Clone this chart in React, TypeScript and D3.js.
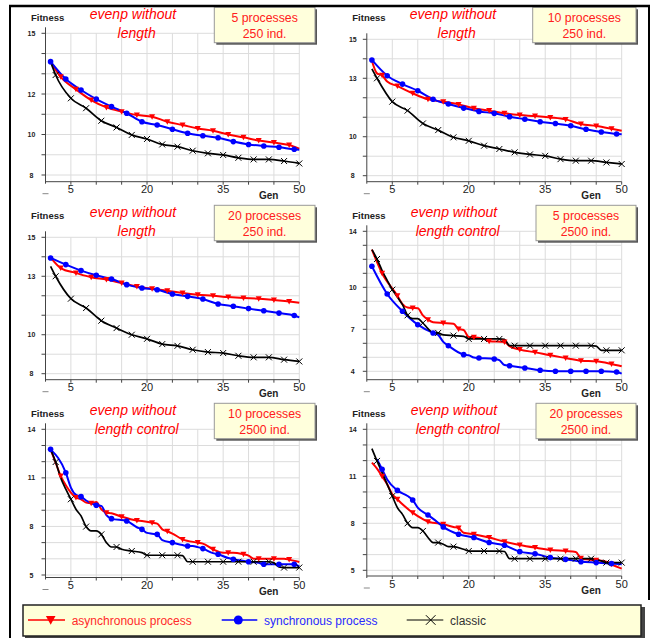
import React from "react";
import * as d3 from "d3";

type Pt = [number, number];

// x axis labels (generations)
const xTickLabels = [5, 20, 35, 50];
const seriesNames = ["asynchronous process", "synchronous process", "classic"];

// panel 1: 5 processes, 250 ind.
const async1: Pt[] = [[1,13.6],[3,12.85],[6,12.23],[9,11.7],[12,11.34],[15,11.13],[18,10.96],[21,10.88],[24,10.63],[27,10.47],[30,10.3],[33,10.19],[36,10.0],[39,9.86],[42,9.7],[45,9.6],[48,9.48],[50,9.3]];
const sync1: Pt[] = [[1,13.6],[4,12.74],[7,12.2],[10,11.75],[13,11.38],[16,11.05],[19,10.63],[22,10.47],[25,10.26],[28,10.06],[31,9.94],[34,9.84],[37,9.65],[40,9.51],[43,9.43],[46,9.37],[49,9.27],[50,9.25]];
const classic1: Pt[] = [[1,13.6],[2,12.94],[5,11.79],[8,11.3],[11,10.68],[14,10.35],[17,9.98],[20,9.78],[23,9.51],[26,9.4],[29,9.2],[32,9.07],[35,8.99],[38,8.85],[41,8.77],[44,8.77],[47,8.69],[50,8.57]];

// panel 2: 10 processes, 250 ind.
const async2: Pt[] = [[1,13.9],[2,13.25],[3,13.15],[4,12.83],[6,12.6],[9,12.23],[12,11.92],[15,11.8],[18,11.66],[21,11.46],[24,11.34],[27,11.2],[30,11.11],[33,11.06],[36,10.99],[39,10.89],[42,10.65],[45,10.55],[48,10.41],[50,10.31]];
const sync2: Pt[] = [[1,13.94],[4,13.13],[7,12.7],[10,12.36],[13,11.92],[16,11.68],[19,11.47],[22,11.3],[25,11.2],[28,11.03],[31,10.9],[34,10.77],[37,10.68],[40,10.56],[43,10.38],[46,10.24],[49,10.14],[50,10.13]];
const classic2: Pt[] = [[1,13.48],[2,13.0],[5,11.8],[8,11.34],[11,10.68],[14,10.34],[17,9.97],[20,9.79],[23,9.54],[26,9.37],[29,9.2],[32,9.09],[35,9.02],[38,8.85],[41,8.77],[44,8.77],[47,8.68],[50,8.6]];

// panel 3: 20 processes, 250 ind.
const async3: Pt[] = [[1,13.97],[3,13.42],[6,13.17],[9,12.95],[12,12.83],[15,12.65],[18,12.48],[21,12.36],[24,12.26],[27,12.14],[30,12.05],[33,12.0],[36,11.93],[39,11.88],[42,11.85],[45,11.78],[48,11.71],[50,11.64]];
const sync3: Pt[] = [[1,13.94],[4,13.6],[7,13.29],[10,13.05],[13,12.86],[16,12.57],[19,12.4],[22,12.31],[25,12.09],[28,11.97],[31,11.83],[34,11.58],[37,11.46],[40,11.34],[43,11.23],[46,11.11],[49,10.99],[50,10.89]];
const classic3: Pt[] = [[1,13.51],[2,13.0],[5,11.85],[8,11.37],[11,10.72],[14,10.34],[17,10.0],[20,9.79],[23,9.52],[26,9.43],[29,9.23],[32,9.11],[35,9.06],[38,8.92],[41,8.84],[44,8.84],[47,8.72],[50,8.63]];

// panel 4: 5 processes, 2500 ind.
const async4: Pt[] = [[1,12.69],[3,11.0],[6,9.4],[7,8.8],[8,8.55],[9,8.52],[10,8.5],[11,8.0],[12,7.69],[13,7.5],[15,7.45],[17,7.4],[18,7.02],[19,6.95],[20,6.45],[21,6.43],[23,6.3],[24,6.14],[27,6.1],[28,5.8],[30,5.55],[33,5.36],[36,5.14],[39,4.95],[42,4.76],[45,4.71],[48,4.52],[50,4.36]];
const sync4: Pt[] = [[1,11.5],[4,9.52],[7,8.29],[10,7.33],[13,6.74],[14,6.6],[15,6.1],[16,5.83],[19,5.19],[20,5.15],[21,4.98],[22,4.95],[25,4.88],[26,4.8],[27,4.45],[28,4.4],[31,4.24],[34,4.07],[37,4.0],[40,4.0],[43,4.0],[46,4.0],[49,3.95],[50,3.83]];
const classic4: Pt[] = [[1,12.69],[2,12.02],[3,11.2],[4,10.5],[5,9.83],[6,9.3],[7,8.76],[8,8.0],[9,7.76],[10,7.76],[11,7.45],[12,7.05],[13,6.74],[14,6.74],[15,6.6],[17,6.55],[19,6.5],[20,6.31],[23,6.31],[26,6.31],[27,6.28],[28,5.83],[29,5.83],[32,5.83],[35,5.83],[38,5.83],[41,5.83],[44,5.83],[45,5.8],[46,5.5],[47,5.5],[50,5.5]];

// panel 5: 10 processes, 2500 ind.
const async5: Pt[] = [[1,12.76],[2,11.94],[3,11.12],[4,10.54],[5,10.09],[6,9.78],[7,9.68],[8,9.47],[9,9.43],[10,9.51],[11,9.06],[12,8.85],[13,8.81],[15,8.6],[18,8.37],[19,8.34],[21,8.23],[22,8.17],[23,7.82],[24,7.7],[25,7.56],[27,7.2],[30,7.0],[31,6.94],[33,6.59],[35,6.38],[36,6.38],[37,6.38],[39,6.28],[40,6.2],[41,6.01],[42,6.01],[45,6.01],[47,6.0],[48,5.95],[50,5.8]];
const sync5: Pt[] = [[1,12.76],[4,11.32],[5,10.4],[6,9.95],[7,9.84],[8,9.6],[10,9.31],[11,9.27],[12,8.7],[13,8.48],[16,8.34],[18,7.95],[19,7.82],[20,7.6],[21,7.55],[22,7.51],[23,7.15],[25,7.0],[27,6.85],[28,6.79],[29,6.79],[30,6.72],[31,6.63],[33,6.35],[34,6.28],[36,6.05],[37,5.97],[40,5.82],[42,5.75],[43,5.66],[46,5.66],[49,5.66],[50,5.52]];
const classic5: Pt[] = [[1,12.76],[2,11.98],[3,11.0],[4,10.3],[5,9.68],[6,9.06],[7,8.65],[8,7.99],[9,7.72],[10,7.72],[11,7.51],[12,7.0],[13,6.73],[14,6.73],[15,6.59],[17,6.48],[19,6.38],[20,6.22],[23,6.22],[26,6.22],[27,6.2],[28,5.82],[29,5.82],[32,5.82],[35,5.82],[38,5.82],[41,5.82],[44,5.82],[45,5.75],[46,5.5],[47,5.46],[50,5.46]];

// panel 6: 20 processes, 2500 ind.
const async6: Pt[] = [[1,11.87],[2,11.49],[3,11.0],[4,10.49],[5,9.85],[6,9.53],[7,9.21],[9,8.68],[11,8.26],[12,8.1],[13,8.04],[15,7.94],[17,7.77],[18,7.7],[19,7.4],[21,7.3],[24,7.09],[27,6.83],[30,6.62],[33,6.45],[36,6.3],[39,6.23],[41,6.17],[42,5.77],[43,5.7],[45,5.64],[47,5.55],[48,5.38],[50,5.11]];
const sync6: Pt[] = [[2,12.09],[3,11.45],[4,10.8],[6,10.1],[8,9.74],[9,9.49],[10,9.0],[12,8.53],[14,8.04],[15,7.77],[18,7.3],[21,7.09],[24,6.77],[27,6.6],[30,6.19],[33,6.06],[36,5.81],[39,5.7],[42,5.55],[45,5.49],[48,5.43],[50,5.38]];
const classic6: Pt[] = [[1,12.77],[2,11.98],[3,11.23],[4,10.49],[5,9.74],[6,9.0],[7,8.57],[8,8.0],[9,7.72],[10,7.72],[11,7.51],[12,7.09],[13,6.77],[14,6.77],[15,6.66],[16,6.51],[17,6.51],[19,6.34],[20,6.23],[23,6.23],[26,6.23],[27,6.2],[28,5.74],[29,5.74],[32,5.74],[35,5.74],[38,5.74],[41,5.74],[44,5.74],[45,5.7],[46,5.6],[47,5.49],[50,5.49]];

const titles = [
  ["evenp without", "length"], ["evenp without", "length"], ["evenp without", "length"],
  ["evenp without", "length control"], ["evenp without", "length control"], ["evenp without", "length control"],
];
const boxTexts = [
  ["5 processes", "250 ind."], ["10 processes", "250 ind."], ["20 processes", "250 ind."],
  ["5 processes", "2500 ind."], ["10 processes", "2500 ind."], ["20 processes", "2500 ind."],
];
const yDomains: [number, number][] = [[8, 15], [8, 15], [8, 15], [4, 14], [5, 14], [5, 14]];
const yTickLabels = [[15, 12, 10, 8], [15, 13, 10, 8], [15, 13, 10, 8], [14, 10, 7, 4], [14, 11, 8, 5], [14, 11, 8, 5]];
const seriesData = [
  [async1, sync1, classic1], [async2, sync2, classic2], [async3, sync3, classic3],
  [async4, sync4, classic4], [async5, sync5, classic5], [async6, sync6, classic6],
];
// generation remainder (mod 3) where each series gets a marker
const markerMods = [[0, 1, 2], [0, 1, 2], [0, 1, 2], [0, 1, 2], [0, 1, 2], [0, 0, 2]];

// pixel layout of each panel
const layouts = [
  { ox: 12, oy: 0, x0: 45.5, x50: 299.3, hiPx: 33.3, loPx: 175, axisY: 181.7, box: [214.3, 315], tx: 133 },
  { ox: 327, oy: 0, x0: 366.8, x50: 621.7, hiPx: 39.3, loPx: 175.7, axisY: 181.7, box: [532.7, 636], tx: 453 },
  { ox: 12, oy: 198, x0: 45.5, x50: 299.3, hiPx: 237.3, loPx: 373.7, axisY: 379.7, box: [214.3, 315], tx: 133 },
  { ox: 327, oy: 198, x0: 366.8, x50: 621.7, hiPx: 231.3, loPx: 371.3, axisY: 379.7, box: [536, 636], tx: 454 },
  { ox: 12, oy: 396, x0: 45.5, x50: 299.3, hiPx: 429.3, loPx: 575, axisY: 577.5, box: [214.3, 315], tx: 133 },
  { ox: 327, oy: 396, x0: 366.8, x50: 621.7, hiPx: 429.3, loPx: 570.3, axisY: 576, box: [536, 636], tx: 454 },
];

const colors = ["#ff0000", "#0000ff", "#000000"];
const font = "'Liberation Sans', Arial, sans-serif";

function Marker({ kind, cx, cy, big = false }: { kind: number; cx: number; cy: number; big?: boolean }) {
  const s = big ? 1.6 : 1;
  if (kind === 0) {
    return (
      <path
        d={`M${cx - 3 * s},${cy - 2.5 * s}L${cx + 3 * s},${cy - 2.5 * s}L${cx},${cy + 3 * s}Z`}
        fill={colors[0]}
      />
    );
  }
  if (kind === 1) return <circle cx={cx} cy={cy} r={2.8 * s} fill={colors[1]} />;
  const a = 3 * s;
  return (
    <g stroke="#000" strokeWidth={1}>
      <line x1={cx - a} y1={cy - a} x2={cx + a} y2={cy + a} />
      <line x1={cx - a} y1={cy + a} x2={cx + a} y2={cy - a} />
    </g>
  );
}

function Panel({ i }: { i: number }) {
  const l = layouts[i];
  const [lo, hi] = yDomains[i];
  const x = d3.scaleLinear().domain([0, 50]).range([l.x0, l.x50]);
  const y = d3.scaleLinear().domain([lo, hi]).range([l.loPx, l.hiPx]);
  const line = d3
    .line<Pt>()
    .x((d) => x(d[0]))
    .y((d) => y(d[1]))
    .curve(d3.curveMonotoneX);
  const gridYs = d3.range(lo, hi + 1);
  const gridXs = d3.range(5, 51, 5);
  const top = y(hi);

  return (
    <g>
      <rect x={l.ox} y={l.oy + 1.5} width={318} height={197} fill="#fff" />
      {/* grid */}
      {gridYs.map((v) => (
        <line key={"h" + v} x1={x(0)} x2={x(50)} y1={y(v)} y2={y(v)} stroke="#dcdcdc" strokeWidth={1} />
      ))}
      {gridXs.map((g) => (
        <line key={"v" + g} x1={x(g)} x2={x(g)} y1={top} y2={l.axisY} stroke="#dcdcdc" strokeWidth={1} />
      ))}
      {/* axes */}
      <line x1={x(0)} x2={x(0)} y1={top - 6} y2={l.axisY + 2} stroke="#444" />
      <line x1={x(0)} x2={x(50)} y1={l.axisY} y2={l.axisY} stroke="#444" />
      <line x1={x(0) - 3} x2={x(0) + 3} y1={l.axisY + 12} y2={l.axisY + 12} stroke="#888" />
      {gridYs.map((v) => (
        <line key={"yt" + v} x1={x(0) - 4} x2={x(0)} y1={y(v)} y2={y(v)} stroke="#444" />
      ))}
      {gridXs.map((g) => (
        <line key={"xt" + g} x1={x(g)} x2={x(g)} y1={l.axisY} y2={l.axisY + 3} stroke="#444" />
      ))}
      {yTickLabels[i].map((v) => (
        <text key={"yl" + v} x={x(0) - 14} y={y(v) + 2.5} fontSize={7} fontWeight="bold" textAnchor="middle" fontFamily={font} fill="#222">
          {v}
        </text>
      ))}
      {xTickLabels.map((g) => (
        <text key={"xl" + g} x={x(g)} y={l.axisY + 11.5} fontSize={11} textAnchor="middle" fontFamily={font} fill="#222">
          {g}
        </text>
      ))}
      <text x={x(0) - 14.5} y={l.oy + 21} fontSize={9.5} fontWeight="bold" fontFamily={font} fill="#222">
        Fitness
      </text>
      <text x={x(50) - 30.6} y={l.axisY + 17.5} fontSize={10} fontWeight="bold" textAnchor="middle" fontFamily={font} fill="#222">
        Gen
      </text>
      {/* series */}
      {seriesData[i].map((s, k) => (
        <path key={"s" + k} d={line(s) || ""} fill="none" stroke={colors[k]} strokeWidth={k === 2 ? 1.7 : 2} />
      ))}
      {seriesData[i].map((s, k) =>
        s
          .filter((d) => d[0] % 3 === markerMods[i][k])
          .map((d) => <Marker key={"m" + k + "-" + d[0]} kind={k} cx={x(d[0])} cy={y(d[1])} />)
      )}
      {/* title */}
      <text x={l.tx} y={l.oy + 19} fontSize={14} fontStyle="italic" textAnchor="middle" fontFamily={font} fill="#ff0000">
        {titles[i][0]}
      </text>
      <text x={l.tx + 3.7} y={l.oy + 37.5} fontSize={14} fontStyle="italic" textAnchor="middle" fontFamily={font} fill="#ff0000">
        {titles[i][1]}
      </text>
      {/* info box */}
      <rect x={l.box[0] + 2} y={l.oy + 9.3} width={l.box[1] - l.box[0]} height={35.4} fill="#555" />
      <rect x={l.box[0]} y={l.oy + 7.3} width={l.box[1] - l.box[0]} height={35.4} fill="#ffffdc" stroke="#999" strokeWidth={1} />
      <text x={(l.box[0] + l.box[1]) / 2} y={l.oy + 22} fontSize={12.3} textAnchor="middle" fontFamily={font} fill="#ff2020">
        {boxTexts[i][0]}
      </text>
      <text x={(l.box[0] + l.box[1]) / 2} y={l.oy + 37.6} fontSize={12.3} textAnchor="middle" fontFamily={font} fill="#ff2020">
        {boxTexts[i][1]}
      </text>
    </g>
  );
}

export default function App() {
  const legendItems = [
    { x1: 28, x2: 65, m: 50.7, tx: 71.7, fill: "#ff2a2a" },
    { x1: 221.7, x2: 257.3, m: 238.3, tx: 264, fill: "#2a2aff" },
    { x1: 406.7, x2: 443.3, m: 430.7, tx: 450, fill: "#333" },
  ];
  return (
    <svg
      width={653}
      height={638}
      style={{ position: "absolute", left: 0, top: 0, display: "block", background: "#fff" }}
    >
      {layouts.map((_, i) => (
        <Panel key={i} i={i} />
      ))}
      {/* legend */}
      <rect x={25} y={607} width={620} height={31} fill="#444" />
      <rect x={23} y={605} width={618} height={31} fill="#ffffd8" stroke="#222" strokeWidth={1.5} />
      {legendItems.map((it, k) => (
        <g key={k}>
          <line x1={it.x1} x2={it.x2} y1={620} y2={620} stroke={colors[k]} strokeWidth={k === 2 ? 1 : 1.5} />
          <Marker kind={k} cx={it.m} cy={620} big />
          <text x={it.tx} y={624.5} fontSize={12} fontFamily={font} fill={it.fill}>
            {seriesNames[k]}
          </text>
        </g>
      ))}
      {/* outer frame */}
      <line x1={10} x2={10} y1={6} y2={638} stroke="#000" strokeWidth={2} />
      <line x1={9} x2={650} y1={6} y2={6} stroke="#000" strokeWidth={2.5} />
      <line x1={649} x2={649} y1={6} y2={600} stroke="#000" strokeWidth={2} />
    </svg>
  );
}
